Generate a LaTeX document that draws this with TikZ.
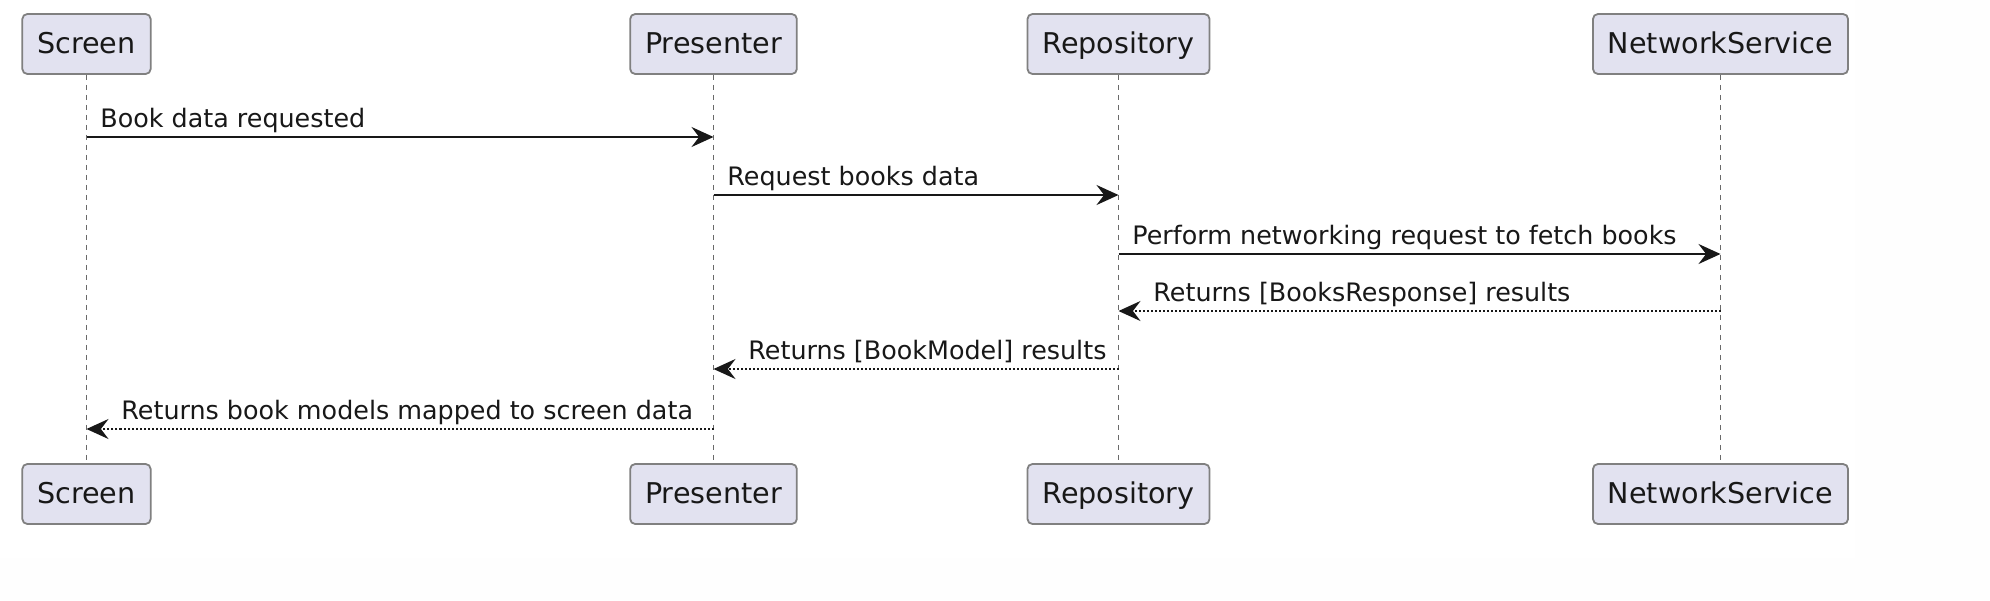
\documentclass[tikz,border=0pt]{standalone}
\usepackage{fontspec}
\setmainfont{DejaVu Sans}
\usetikzlibrary{arrows.meta, positioning}
\definecolor{ink}{HTML}{181818}
\definecolor{partfill}{HTML}{E2E2F0}
\tikzset{
    x=0.5pt, y=-0.5pt, % one unit is one pixel, counted from the top
    participant/.style={draw=ink!55, fill=partfill, line width=0.9pt, rounded corners=2.5pt,
        text=ink, font=\fontsize{14.3}{16}\selectfont, minimum height=30pt, inner xsep=7.5pt,
        text height=1.85ex, text depth=0.15ex},
    lifeline/.style={draw=ink!65, line width=0.5pt, dash pattern=on 2.5pt off 2.5pt},
    call/.style={draw=ink, line width=0.9pt, -{Stealth[length=11pt, width=10pt, inset=3.8pt]}},
    reply/.style={call, dash pattern=on 1pt off 1pt},
    msg/.style={font=\fontsize{12.7}{15}\selectfont, text=ink, inner sep=0pt, anchor=base west, yshift=5pt},
}
\begin{document}
\begin{tikzpicture}
    \useasboundingbox[fill=white!99.6!black] (0,0) rectangle (1990,600);
    \fill[white] (0,0) rectangle (1855,558);
    % participants, top and bottom
    \node[participant] (scr) at (86.5,44) {Screen};
    \node[participant] (pre) at (713.5,44) {Presenter};
    \node[participant] (repo) at (1118.5,44) {Repository};
    \node[participant] (net) at (1720.5,44) {NetworkService};
    \node[participant] (scrB) at (86.5,494) {Screen};
    \node[participant] (preB) at (713.5,494) {Presenter};
    \node[participant] (repoB) at (1118.5,494) {Repository};
    \node[participant] (netB) at (1720.5,494) {NetworkService};
    \foreach \p in {scr, pre, repo, net}
        \draw[lifeline] (\p) -- (\p B);
    % messages
    \coordinate (m1a) at (scr |- 0,137);  \coordinate (m1b) at (pre |- 0,137);
    \coordinate (m2a) at (pre |- 0,195);  \coordinate (m2b) at (repo |- 0,195);
    \coordinate (m3a) at (repo |- 0,254); \coordinate (m3b) at (net |- 0,254);
    \coordinate (m4a) at (net |- 0,311);  \coordinate (m4b) at (repo |- 0,311);
    \coordinate (m5a) at (repo |- 0,369); \coordinate (m5b) at (pre |- 0,369);
    \coordinate (m6a) at (pre |- 0,429);  \coordinate (m6b) at (scr |- 0,429);
    \draw[call] (m1a) -- (m1b) node[pos=0, msg, xshift=6.5pt] {Book data requested};
    \draw[call] (m2a) -- (m2b) node[pos=0, msg, xshift=6.5pt] {Request books data};
    \draw[call] (m3a) -- (m3b) node[pos=0, msg, xshift=6.5pt] {Perform networking request to fetch books};
    \draw[reply] (m4a) -- (m4b) node[pos=1, msg, xshift=17pt] {Returns [BooksResponse] results};
    \draw[reply] (m5a) -- (m5b) node[pos=1, msg, xshift=17pt] {Returns [BookModel] results};
    \draw[reply] (m6a) -- (m6b) node[pos=1, msg, xshift=17pt] {Returns book models mapped to screen data};
\end{tikzpicture}
\end{document}
